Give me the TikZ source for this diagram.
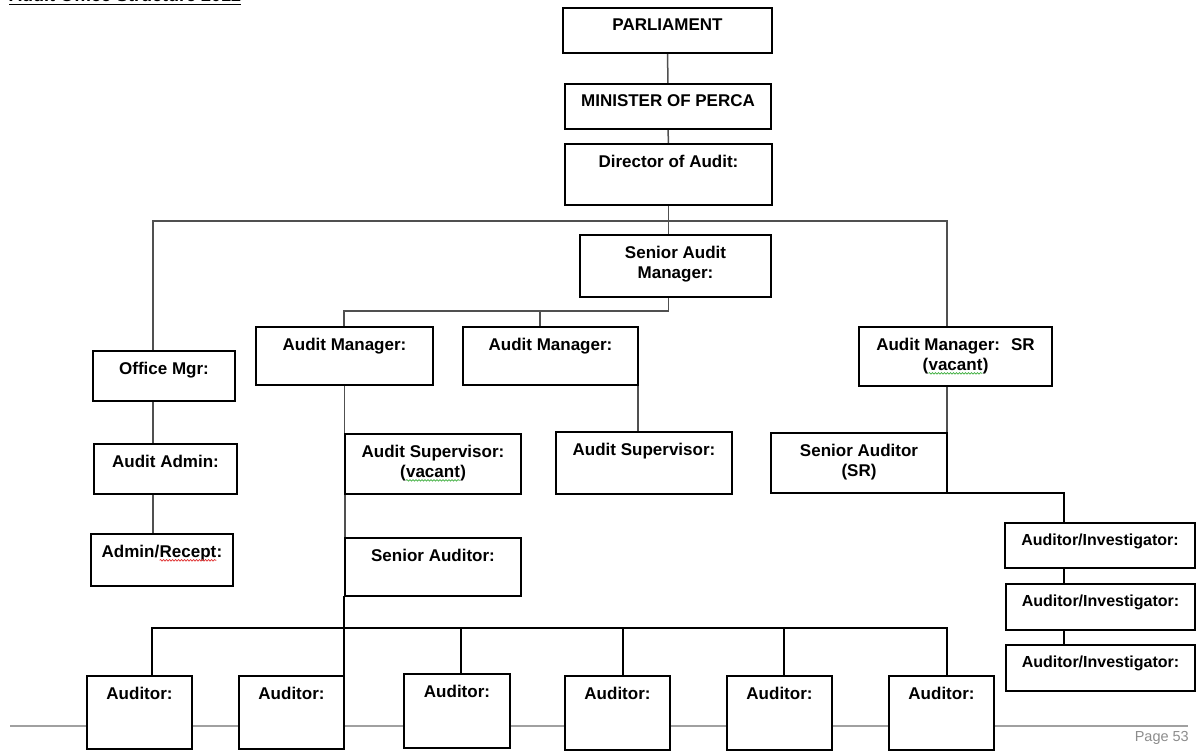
\documentclass[tikz,border=0pt]{standalone}
\usepackage{fontspec}
\setmainfont{Liberation Sans}
\usetikzlibrary{fit,backgrounds,decorations.pathmorphing}
\definecolor{conncol}{HTML}{505050}
\definecolor{footcol}{HTML}{A0A0A0}
\definecolor{pagecol}{HTML}{8C8C8C}
\definecolor{wavegreen}{HTML}{3FAF3F}
\definecolor{wavered}{HTML}{E03030}
\tikzset{
  box/.style={draw=black, line width=1.3pt, fill=white, inner sep=0pt, outer sep=0pt},
  tbox/.style={box, line width=2.2pt},
  lab/.style={inner sep=0pt, outer sep=0pt, align=center, font=\fontsize{17}{20}\selectfont\bfseries},
  slab/.style={lab, font=\fontsize{16}{19}\selectfont\bfseries},
  conn/.style={draw=conncol, line width=1.5pt},
  bus/.style={draw=black, line width=2pt},
  foot/.style={draw=footcol, line width=1.5pt},
}
\newcommand\wavy[2]{\tikz[baseline=(w.base)]{\node[inner sep=0pt,outer sep=0pt] (w) {#2};
  \draw[#1, line width=0.7pt, decorate, decoration={snake,amplitude=0.8pt,segment length=3pt}]
    ([yshift=-3pt]w.base west) -- ([yshift=-3pt]w.base east);}}
% #1 style, #2 name, #3 x1, #4 y1, #5 x2, #6 y2, #7 text, #8 label style
\newcommand\obox[8]{%
  \node[#1, fit={(#3,#4) (#5,#6)}] (#2) {};
  \node[#8, anchor=north] (#2-t) at ([yshift=-11pt]#2.north) {#7};}
\begin{document}
\begin{tikzpicture}[x=1pt, y=-1pt]
\useasboundingbox (0,0) rectangle (1196,751);
% title (cut off at top, as in the reference)
\node[inner sep=0pt, anchor=base west, font=\fontsize{18}{20}\selectfont\bfseries] (title) at (9,1.5) {Audit Office Structure 2012};
\draw[line width=1.5pt] ([yshift=-3pt]title.base west) -- ([yshift=-3pt]title.base east);
% footer
\coordinate (fl) at (10,726);
\coordinate (fr) at (1188,726);
\draw[foot] (fl) -- (fr);
\node[inner sep=0pt, anchor=base east, text=pagecol, font=\fontsize{14.5}{16}\selectfont] (page) at (1189,741) {Page 53};
% boxes
\obox{box}{parl}{563}{8}{772}{53}{PARLIAMENT}{lab}
\obox{box}{min}{565}{84}{771}{129}{MINISTER OF PERCA}{lab}
\obox{box}{dir}{565}{144}{772}{205}{Director of Audit:}{lab}
\obox{box}{sam}{580}{235}{771}{297}{Senior Audit\\Manager:}{lab}
\obox{box}{am1}{256}{327}{433}{385}{Audit Manager:}{lab}
\obox{box}{am2}{463}{327}{638}{385}{Audit Manager:}{lab}
\obox{box}{amsr}{859}{327}{1052}{386}{Audit Manager:~ SR\\(\wavy{wavegreen}{vacant})}{lab}
\obox{box}{om}{93}{351}{235}{401}{Office Mgr:}{lab}
\obox{box}{aa}{94}{444}{237}{494}{Audit Admin:}{lab}
\obox{box}{ar}{91}{534}{233}{586}{Admin/\wavy{wavered}{Recept}:}{lab}
\obox{box}{as1}{345}{434}{521}{494}{Audit Supervisor:\\(\wavy{wavegreen}{vacant})}{lab}
\obox{box}{as2}{556}{432}{732}{494}{Audit Supervisor:}{lab}
\obox{box}{sa1}{345}{538}{521}{596}{Senior Auditor:}{lab}
\obox{tbox}{srsa}{771}{433}{947}{493}{Senior Auditor\\(SR)}{lab}
\obox{tbox}{ai1}{1005}{523}{1195}{568}{Auditor/Investigator:}{slab}
\obox{tbox}{ai2}{1006}{584}{1195}{630}{Auditor/Investigator:}{slab}
\obox{tbox}{ai3}{1006}{645}{1195}{691}{Auditor/Investigator:}{slab}
\obox{box}{a1}{87}{676}{192}{749}{Auditor:}{lab}
\obox{box}{a2}{239}{676}{344}{749}{Auditor:}{lab}
\obox{box}{a3}{404}{674}{510}{748}{Auditor:}{lab}
\obox{box}{a4}{565}{676}{670}{750}{Auditor:}{lab}
\obox{box}{a5}{727}{676}{832}{750}{Auditor:}{lab}
\obox{box}{a6}{889}{676}{994}{750}{Auditor:}{lab}
% connectors
\coordinate (tl) at (153,221);
\coordinate (tr) at (947,221);
\coordinate (ml) at (344,311);
\coordinate (m2) at (540,311);
\coordinate (bl) at (152,628);
\coordinate (br) at (947,628);
\coordinate (b3) at (461,628);
\coordinate (b4) at (623,628);
\coordinate (b5) at (784,628);
\coordinate (ax) at (1064,500);
\begin{pgfonlayer}{background}
\draw[conn] (parl.south) -- (min.north);
\draw[conn] (min.south) -- (dir.north);
\draw[conn] (dir.south) -- (dir.south |- sam.north);
\draw[conn] (om.north -| tl) -- (tl) -- (tr) -- (amsr.north -| tr);
\draw[conn] (sam.south -| dir.south) |- (ml) -- (ml |- am1.north);
\draw[conn] (m2) -- (m2 |- am2.north);
\draw[conn] (om.south -| tl) -- (aa.north -| tl);
\draw[conn] (aa.south -| tl) -- (ar.north -| tl);
\draw[conn] (am1.south) -- (am1.south |- as1.north);
\draw[conn] (as1.south west) -- (sa1.north west);
\draw[bus] (a2.north east |- sa1.south west) -- (a2.north east);
\draw[conn] (am2.south east) -- (am2.south east |- as2.north);
\draw[conn] (amsr.south -| tr) -- (srsa.north east);
\draw[bus] (srsa.south east) -| (ai1.north -| ax);
\draw[bus] (ai1.south -| ax) -- (ai2.north -| ax);
\draw[bus] (ai2.south -| ax) -- (ai3.north -| ax);
\draw[bus] (a1.north -| bl) -- (bl) -- (br) -- (a6.north -| br);
\draw[bus] (b3) -- (b3 |- a3.north);
\draw[bus] (b4) -- (b4 |- a4.north);
\draw[bus] (b5) -- (b5 |- a5.north);
\end{pgfonlayer}
\end{tikzpicture}
\end{document}
